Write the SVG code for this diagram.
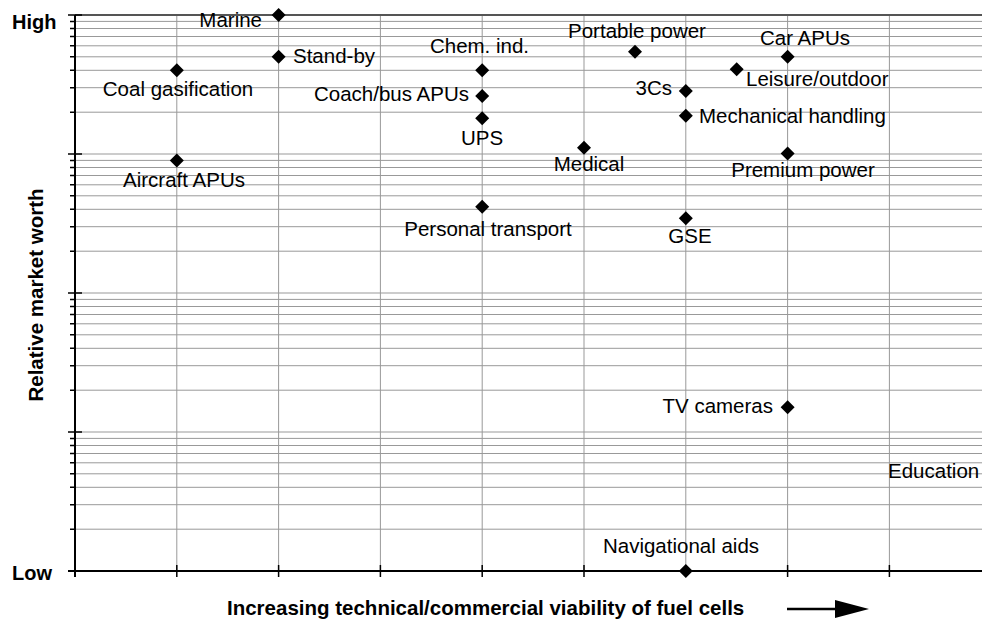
<svg xmlns="http://www.w3.org/2000/svg" width="982" height="621" viewBox="0 0 982 621">
<style>
.grid{stroke:#999;stroke-width:1;fill:none}
.axis{stroke:#000;stroke-width:2;fill:none}
.tick{stroke:#000;stroke-width:1.5;fill:none}
.lbl{font-family:"Liberation Sans",Arial,sans-serif;font-size:20.5px;fill:#000}
.b{font-family:"Liberation Sans",Arial,sans-serif;font-weight:bold;fill:#000}
.mk{fill:#000}
</style>
<defs>
<path id="dm" d="M0,-7 L7,0 L0,7 L-7,0 Z"/>
</defs>
<rect width="982" height="621" fill="#fff"/>
<g id="grid">
<path class="grid" d="M75,21.4H982M75,28.5H982M75,36.5H982M75,45.8H982M75,56.8H982M75,70.3H982M75,87.7H982M75,112.2H982M75,154H982
M75,160.4H982M75,167.5H982M75,175.5H982M75,184.8H982M75,195.8H982M75,209.3H982M75,226.7H982M75,251.2H982M75,293H982
M75,299.4H982M75,306.5H982M75,314.5H982M75,323.8H982M75,334.8H982M75,348.3H982M75,365.7H982M75,390.2H982M75,432H982
M75,438.4H982M75,445.5H982M75,453.5H982M75,462.8H982M75,473.8H982M75,487.3H982M75,504.7H982M75,529.2H982"/>
<path class="grid" d="M176.8,15V571M278.6,15V571M380.4,15V571M482.2,15V571M584,15V571M685.8,15V571M787.6,15V571M889.4,15V571"/>
<path d="M75,15H982" stroke="#555" stroke-width="2"/>
</g>
<g id="axes">
<path class="axis" d="M75,15V577M68,571H982"/>
<path class="tick" d="M68,15H82M68,154H82M68,293H82M68,432H82
M70,21.4H75M70,28.5H75M70,36.5H75M70,45.8H75M70,56.8H75M70,70.3H75M70,87.7H75M70,112.2H75
M70,160.4H75M70,167.5H75M70,175.5H75M70,184.8H75M70,195.8H75M70,209.3H75M70,226.7H75M70,251.2H75
M70,299.4H75M70,306.5H75M70,314.5H75M70,323.8H75M70,334.8H75M70,348.3H75M70,365.7H75M70,390.2H75
M70,438.4H75M70,445.5H75M70,453.5H75M70,462.8H75M70,473.8H75M70,487.3H75M70,504.7H75M70,529.2H75
M176.8,565V577M278.6,565V577M380.4,565V577M482.2,565V577M584,565V577M685.8,565V577M787.6,565V577M889.4,565V577"/>
<text class="b" x="12" y="29" font-size="20">High</text>
<text class="b" x="12" y="580" font-size="20">Low</text>
<text class="b" font-size="20.5" text-anchor="middle" transform="translate(43,295) rotate(-90)">Relative market worth</text>
<text class="b" font-size="20.5" x="227" y="615">Increasing technical/commercial viability of fuel cells</text>
</g>
<g id="connectors">
<path d="M787,609H837" stroke="#000" stroke-width="2.5"/>
<path d="M835,600L869,609L835,618Z" fill="#000"/>
</g>
<g id="marine"><use href="#dm" class="mk" x="278.6" y="15"/><text class="lbl" x="262" y="27" text-anchor="end">Marine</text></g>
<g id="standby"><use href="#dm" class="mk" x="278.6" y="56.8"/><text class="lbl" x="293" y="63">Stand-by</text></g>
<g id="coal"><use href="#dm" class="mk" x="176.8" y="70.3"/><text class="lbl" x="178" y="96" text-anchor="middle">Coal gasification</text></g>
<g id="aircraft"><use href="#dm" class="mk" x="176.8" y="160.4"/><text class="lbl" x="184" y="187" text-anchor="middle">Aircraft APUs</text></g>
<g id="chem"><use href="#dm" class="mk" x="482.2" y="70.3"/><text class="lbl" x="479.5" y="53" text-anchor="middle">Chem. ind.</text></g>
<g id="coach"><use href="#dm" class="mk" x="482.2" y="96"/><text class="lbl" x="469" y="101" text-anchor="end">Coach/bus APUs</text></g>
<g id="ups"><use href="#dm" class="mk" x="482.2" y="118.3"/><text class="lbl" x="482" y="145" text-anchor="middle">UPS</text></g>
<g id="medical"><use href="#dm" class="mk" x="584" y="147.7"/><text class="lbl" x="589" y="171" text-anchor="middle">Medical</text></g>
<g id="personal"><use href="#dm" class="mk" x="482.2" y="206.7"/><text class="lbl" x="488" y="236" text-anchor="middle">Personal transport</text></g>
<g id="portable"><use href="#dm" class="mk" x="635" y="51.7"/><text class="lbl" x="637" y="38" text-anchor="middle">Portable power</text></g>
<g id="threecs"><use href="#dm" class="mk" x="685.8" y="91"/><text class="lbl" x="672" y="95" text-anchor="end">3Cs</text></g>
<g id="mechanical"><use href="#dm" class="mk" x="685.8" y="115.7"/><text class="lbl" x="699" y="123">Mechanical handling</text></g>
<g id="leisure"><use href="#dm" class="mk" x="736.7" y="69.3"/><text class="lbl" x="746" y="86">Leisure/outdoor</text></g>
<g id="carapus"><use href="#dm" class="mk" x="787.6" y="56.8"/><text class="lbl" x="805" y="45" text-anchor="middle">Car APUs</text></g>
<g id="premium"><use href="#dm" class="mk" x="787.6" y="153.5"/><text class="lbl" x="803" y="177" text-anchor="middle">Premium power</text></g>
<g id="gse"><use href="#dm" class="mk" x="685.8" y="218.3"/><text class="lbl" x="690" y="243" text-anchor="middle">GSE</text></g>
<g id="tv"><use href="#dm" class="mk" x="787.6" y="407.3"/><text class="lbl" x="773" y="413" text-anchor="end">TV cameras</text></g>
<g id="education"><text class="lbl" x="888" y="478">Education</text></g>
<g id="navigational"><use href="#dm" class="mk" x="685.8" y="571"/><text class="lbl" x="681" y="553" text-anchor="middle">Navigational aids</text></g>
</svg>
